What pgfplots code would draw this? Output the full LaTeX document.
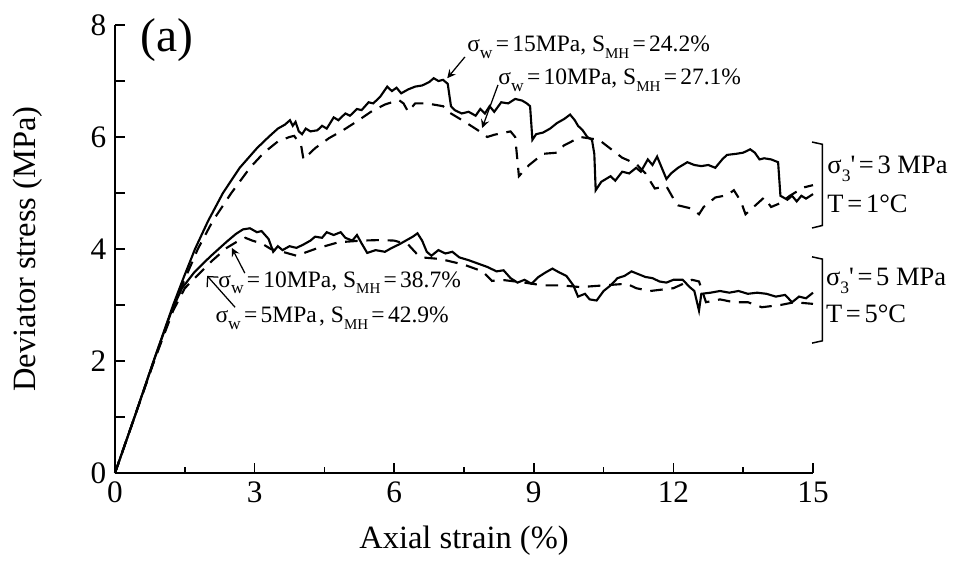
\documentclass[border=0pt]{standalone}
\usepackage{fontspec}
\setmainfont{Liberation Serif}
\usepackage{pgfplots}
\pgfplotsset{compat=1.18}
\usetikzlibrary{arrows.meta}
\newcommand{\sub}[1]{\raisebox{-0.6ex}{\fontsize{7}{7}\selectfont #1}}
\newcommand{\subs}[1]{\raisebox{-0.6ex}{\fontsize{6}{6}\selectfont #1}}
\newcommand{\eq}{\hspace{0.14em}=\hspace{0.14em}}
\begin{document}
\begin{tikzpicture}
\useasboundingbox (-46pt,-35.6pt) rectangle (336.4pt,189.2pt);
\begin{axis}[at={(0,0)},anchor=south west, scale only axis,
  width=279.2pt, height=179.2pt,
  xmin=0,xmax=15,ymin=0,ymax=8,
  axis x line=bottom, axis y line=left,
  axis line style={-, line width=0.6pt},
  tick align=inside,
  xtick={0,3,...,15}, minor x tick num=1,
  ytick={0,1,...,8}, yticklabels={0,,2,,4,,6,,8},
  major tick length=4pt, minor tick length=2.4pt,
  tick style={line width=0.6pt, black},
  ticklabel style={font=\fontsize{12.5}{12.5}\selectfont},
  /pgf/number format/assume math mode=true,
  xlabel={Axial strain (\%)}, ylabel={Deviator stress (MPa)},
  label style={font=\fontsize{13}{13}\selectfont},
  xlabel style={at={(axis description cs:0.5,-0.152)},anchor=center},
  ylabel style={at={(axis description cs:-0.125,0.5)},anchor=center},
  clip=false]
% sigma3'=3 MPa, sigma_w = 15 MPa (solid)
\addplot[black, line width=0.85pt] coordinates {
(0,0)(0.42,1)(0.83,2)(1.25,3)(1.48,3.5)(1.72,4)(2.0,4.5)(2.32,5)(2.68,5.45)(3.05,5.8)
(3.3,6.0)(3.5,6.15)(3.65,6.22)(3.76,6.3)(3.82,6.2)(3.88,6.27)(3.95,6.1)(4.02,6.05)(4.1,6.15)
(4.2,6.1)(4.35,6.12)(4.45,6.2)(4.55,6.15)(4.7,6.35)(4.8,6.3)(4.95,6.42)(5.05,6.38)(5.2,6.5)
(5.3,6.48)(5.45,6.62)(5.55,6.6)(5.7,6.72)(5.85,6.9)(5.95,6.82)(6.05,6.88)(6.15,6.78)(6.3,6.85)
(6.45,6.9)(6.6,6.92)(6.75,6.98)(6.85,7.05)(6.95,7.0)(7.05,7.02)(7.15,6.95)(7.22,6.55)(7.3,6.48)
(7.45,6.42)(7.6,6.45)(7.75,6.38)(7.85,6.5)(7.95,6.42)(8.05,6.55)(8.15,6.45)(8.3,6.62)(8.45,6.6)
(8.6,6.68)(8.75,6.65)(8.85,6.6)(8.92,6.55)(8.97,5.95)(9.05,6.05)(9.2,6.08)(9.35,6.15)(9.5,6.25)
(9.65,6.32)(9.78,6.4)(9.88,6.3)(9.95,6.2)(10.05,6.12)(10.15,6.0)(10.25,5.95)(10.3,5.7)(10.33,5.05)
(10.45,5.2)(10.55,5.25)(10.65,5.3)(10.75,5.22)(10.9,5.38)(11.05,5.35)(11.2,5.45)(11.3,5.38)
(11.45,5.6)(11.55,5.5)(11.65,5.65)(11.75,5.45)(11.85,5.25)(11.95,5.35)(12.1,5.45)(12.3,5.55)
(12.45,5.5)(12.6,5.48)(12.75,5.5)(12.9,5.45)(13.05,5.6)(13.15,5.68)(13.35,5.7)(13.5,5.72)
(13.65,5.78)(13.75,5.72)(13.85,5.6)(13.95,5.62)(14.1,5.6)(14.25,5.55)(14.3,4.95)(14.45,4.88)
(14.55,4.95)(14.65,4.85)(14.75,4.95)(14.85,4.9)(15.0,4.98)
};
% sigma3'=3 MPa, sigma_w = 10 MPa (dashed)
\addplot[black, line width=0.85pt, dash pattern=on 5pt off 3.5pt] coordinates {
(0,0)(0.42,1)(0.84,2)(1.27,3)(1.52,3.5)(1.78,4)(2.1,4.5)(2.5,5.0)(2.9,5.45)(3.2,5.72)
(3.5,5.92)(3.75,6.0)(3.85,6.02)(4.0,5.85)(4.05,5.6)(4.3,5.8)(4.6,5.98)(4.9,6.12)(5.2,6.28)
(5.5,6.45)(5.8,6.58)(6.1,6.66)(6.2,6.6)(6.3,6.45)(6.45,6.6)(6.7,6.6)(7.05,6.55)(7.2,6.43)
(7.5,6.28)(7.8,6.12)(8.0,6.0)(8.15,6.04)(8.5,6.1)(8.6,6.0)(8.68,5.3)(8.9,5.5)(9.2,5.7)
(9.5,5.72)(9.65,5.85)(10.0,6.0)(10.4,5.95)(10.9,5.63)(11.2,5.52)(11.4,5.35)(11.6,5.08)
(11.85,5.12)(12.0,4.9)(12.1,4.78)(12.4,4.72)(12.55,4.62)(12.65,4.75)(12.9,4.92)(13.15,4.96)
(13.3,5.05)(13.45,4.85)(13.55,4.62)(13.75,4.77)(13.95,4.92)(14.1,4.75)(14.3,4.82)(14.5,4.95)
(14.8,5.1)(15.0,5.14)
};
% sigma3'=5 MPa, sigma_w = 10 MPa (solid)
\addplot[black, line width=0.85pt] coordinates {
(0,0)(0.42,1)(0.83,2)(1.22,2.9)(1.44,3.3)(1.7,3.58)(2.04,3.86)(2.4,4.13)(2.6,4.27)(2.75,4.35)
(2.9,4.37)(3.05,4.3)(3.15,4.32)(3.3,4.18)(3.4,3.95)(3.5,4.05)(3.6,3.98)(3.75,4.05)(3.9,4.02)
(4.05,4.08)(4.2,4.15)(4.3,4.22)(4.45,4.2)(4.55,4.3)(4.7,4.25)(4.85,4.3)(4.95,4.2)(5.1,4.15)
(5.2,4.25)(5.3,4.1)(5.42,3.93)(5.6,3.98)(5.8,3.95)(5.95,4.02)(6.1,4.08)(6.25,4.15)(6.4,4.22)
(6.5,4.28)(6.6,4.15)(6.7,3.95)(6.8,3.88)(6.95,3.98)(7.1,3.92)(7.25,3.95)(7.4,3.85)(7.6,3.8)
(7.8,3.74)(8.0,3.68)(8.2,3.6)(8.35,3.62)(8.5,3.48)(8.65,3.4)(8.8,3.45)(8.95,3.38)(9.1,3.5)
(9.25,3.58)(9.4,3.65)(9.55,3.58)(9.7,3.52)(9.85,3.35)(9.95,3.15)(10.1,3.2)(10.2,3.1)(10.35,3.08)
(10.5,3.25)(10.65,3.35)(10.8,3.48)(10.95,3.52)(11.1,3.6)(11.25,3.55)(11.4,3.5)(11.55,3.48)
(11.7,3.42)(11.85,3.4)(12.0,3.45)(12.2,3.45)(12.35,3.32)(12.45,3.25)(12.55,2.9)(12.6,3.2)
(12.8,3.22)(13.0,3.25)(13.2,3.22)(13.4,3.25)(13.6,3.2)(13.8,3.22)(14.0,3.2)(14.2,3.15)
(14.4,3.18)(14.55,3.05)(14.7,3.15)(14.85,3.12)(15.0,3.22)
};
% sigma3'=5 MPa, sigma_w = 5 MPa (dashed)
\addplot[black, line width=0.85pt, dash pattern=on 5pt off 3.5pt] coordinates {
(0,0)(0.42,1)(0.84,2)(1.25,2.9)(1.5,3.3)(1.8,3.55)(2.1,3.8)(2.4,4.02)(2.6,4.12)(2.8,4.2)
(2.95,4.15)(3.15,4.1)(3.35,4.0)(3.6,3.95)(3.9,3.88)(4.3,4.0)(4.8,4.12)(5.3,4.15)(5.7,4.16)
(6.0,4.15)(6.3,4.08)(6.5,3.9)(6.6,3.85)(7.0,3.82)(7.5,3.72)(7.9,3.6)(8.1,3.43)(8.3,3.45)(8.8,3.4)
(9.2,3.35)(9.6,3.35)(10.0,3.32)(10.5,3.35)(11.0,3.38)(11.2,3.3)(11.5,3.25)(12.0,3.3)
(12.4,3.45)(12.55,3.42)(12.7,3.05)(13.0,3.1)(13.3,3.05)(13.6,3.05)(13.9,2.96)(14.1,2.98)
(14.3,3.0)(14.6,3.05)(15.0,3.02)
};
% annotations
\node[anchor=base west, inner sep=0pt, font=\fontsize{19}{19}\selectfont] at (axis cs:0.54,7.52) {(a)};
\node[anchor=base west, inner sep=0pt, font=\fontsize{9.4}{9.4}\selectfont] at (axis cs:7.56,7.52) {σ\sub{w}\eq15MPa, S\subs{MH}\eq24.2\%};
\node[anchor=base west, inner sep=0pt, font=\fontsize{9.4}{9.4}\selectfont] at (axis cs:8.23,6.93) {σ\sub{w}\eq10MPa, S\subs{MH}\eq27.1\%};
\node[anchor=base west, inner sep=0pt, font=\fontsize{9.4}{9.4}\selectfont] at (axis cs:2.21,3.32) {σ\sub{w}\eq10MPa, S\subs{MH}\eq38.7\%};
\node[anchor=base west, inner sep=0pt, font=\fontsize{9.4}{9.4}\selectfont] at (axis cs:2.15,2.68) {σ\sub{w}\eq5MPa\hspace{0.1em}, S\subs{MH}\eq42.9\%};
\draw[-stealth, line width=0.5pt] (axis cs:7.52,7.43) -- (axis cs:7.14,7.05);
\draw[-stealth, line width=0.5pt] (axis cs:8.23,6.93) -- (axis cs:7.89,6.16);
\draw[-stealth, line width=0.5pt] (axis cs:2.79,3.57) -- (axis cs:2.51,4.02);
\draw[-{Straight Barb[length=3pt,width=6pt]}, line width=0.5pt] (axis cs:2.58,2.96) -- (axis cs:1.98,3.52);
% brackets
\draw[line width=0.6pt] (axis cs:14.98,5.91) -- (axis cs:15.2,5.87) -- (axis cs:15.2,4.42) -- (axis cs:14.98,4.375);
\draw[line width=0.6pt] (axis cs:14.98,3.86) -- (axis cs:15.2,3.82) -- (axis cs:15.2,2.36) -- (axis cs:14.98,2.32);
\node[anchor=base west, inner sep=0pt, font=\fontsize{10.6}{10.6}\selectfont] at (axis cs:15.3,5.34) {σ\sub{3}\textquotesingle\eq3 MPa};
\node[anchor=base west, inner sep=0pt, font=\fontsize{10.6}{10.6}\selectfont] at (axis cs:15.3,4.66) {T\eq1°C};
\node[anchor=base west, inner sep=0pt, font=\fontsize{10.6}{10.6}\selectfont] at (axis cs:15.27,3.34) {σ\sub{3}\textquotesingle\eq5 MPa};
\node[anchor=base west, inner sep=0pt, font=\fontsize{10.6}{10.6}\selectfont] at (axis cs:15.27,2.68) {T\eq5°C};
\end{axis}
\end{tikzpicture}
\end{document}
